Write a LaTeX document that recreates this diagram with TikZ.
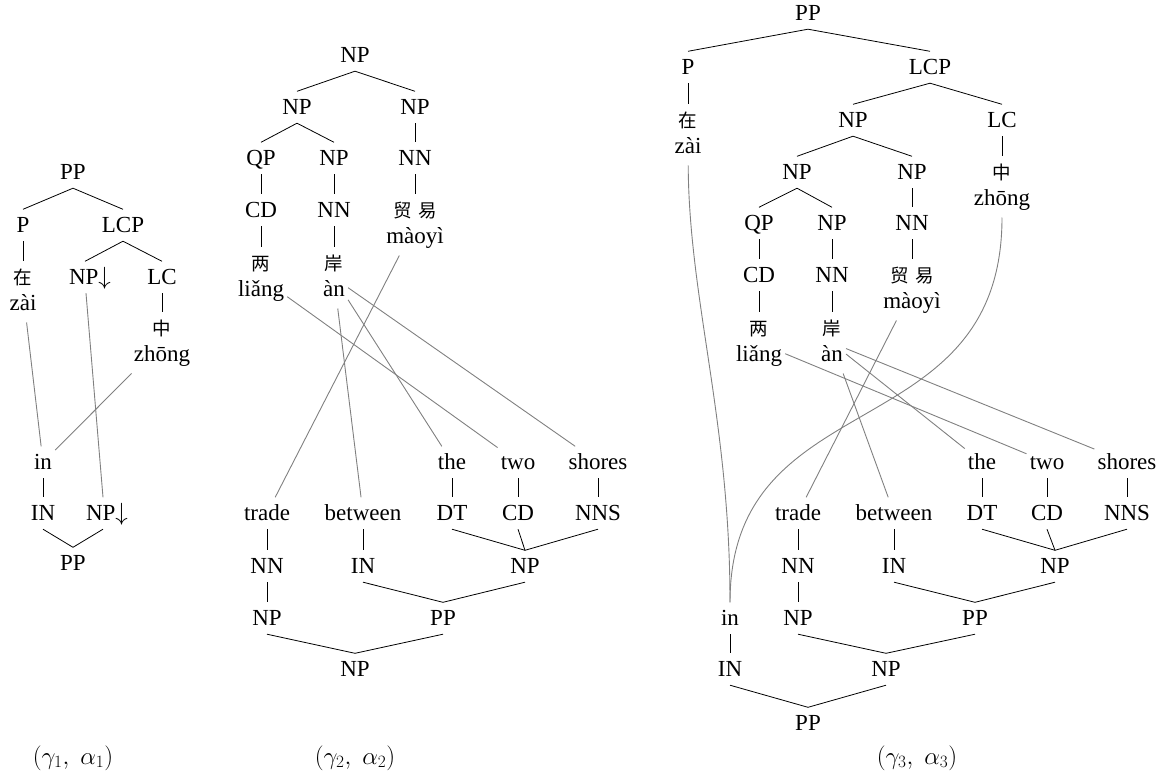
\documentclass[tikz,border=0pt]{standalone}
\usepackage{fontspec}
\setmainfont{Liberation Serif}
\newfontfamily\cjk{Noto Sans CJK SC}

\newcommand{\zhchar}[1]{{\cjk\fontsize{18.5}{26}\selectfont #1}}
\newcommand{\zhword}[2]{\begin{tabular}[t]{@{}c@{}}\zhchar{#1}\\#2\end{tabular}}

\tikzset{
	cat/.style={anchor=base, yshift=-7.5pt, inner xsep=3pt, inner ysep=4pt, text height=19pt, text depth=4.5pt},
	leaf/.style={anchor=base, yshift=-7.5pt, inner xsep=3pt, inner ysep=4pt, text height=19pt},
	branch/.style={line width=0.8pt},
	link/.style={line width=0.9pt, color=black!50},
	caption/.style={font=\fontsize{25}{30}\selectfont}
}

\begin{document}
\begin{tikzpicture}[x=1pt, y=-1pt, font=\fontsize{23}{26}\selectfont]
	\useasboundingbox (0,0) rectangle (1166,773);

	% (gamma_1, alpha_1)
	\node[cat] (aPP) at (73,172) {PP};
	\node[cat] (aP) at (23,225) {P};
	\node[cat] (aLCP) at (123,225) {LCP};
	\node[leaf] (azai) at (23,277) {\zhword{在}{zài}};
	\node[cat] (aNPt) at (90,277) {NP$\downarrow$};
	\node[cat] (aLC) at (162,277) {LC};
	\node[leaf] (azhong) at (162,328) {\zhword{中}{zhōng}};
	\draw[branch] (aPP.south) -- (aP.north);
	\draw[branch] (aPP.south) -- (aLCP.north);
	\draw[branch] (aP.south) -- (azai.north);
	\draw[branch] (aLCP.south) -- ([xshift=-5pt]aNPt.north);
	\draw[branch] (aLCP.south) -- (aLC.north);
	\draw[branch] (aLC.south) -- (azhong.north);

	\node[cat] (ain) at (43,462) {in};
	\node[cat] (aIN) at (43,513) {IN};
	\node[cat] (aNPb) at (107,513) {NP$\downarrow$};
	\node[cat] (aPPb) at (73,563) {PP};
	\draw[branch] (ain.south) -- (aIN.north);
	\draw[branch] (aIN.south) -- (aPPb.north);
	\draw[branch] ([xshift=-4pt]aNPb.south) -- (aPPb.north);

	\draw[link] (azai) -- (ain);
	\draw[link] ([xshift=-4pt]aNPt.south) -- ([xshift=-4pt]aNPb.north);
	\draw[link] (azhong) -- (ain);

	\node[caption] (alabel) at (73,758) {$(\gamma_1,\;\alpha_1)$};

	% (gamma_2, alpha_2)
	\node[cat] (bNP) at (355,55) {NP};
	\node[cat] (bNPl) at (297,107) {NP};
	\node[cat] (bNPr) at (415,107) {NP};
	\node[cat] (bQP) at (261,158) {QP};
	\node[cat] (bNPn) at (334,158) {NP};
	\node[cat] (bNNr) at (415,158) {NN};
	\node[cat] (bCD) at (261,210) {CD};
	\node[cat] (bNNn) at (334,210) {NN};
	\node[leaf] (bmaoyi) at (415,210) {\zhword{贸\hspace{6pt}易}{màoyì}};
	\node[leaf] (bliang) at (261,263) {\zhword{两}{liǎng}};
	\node[leaf] (ban) at (334,263) {\zhword{岸}{àn}};
	\draw[branch] (bNP.south) -- (bNPl.north);
	\draw[branch] (bNP.south) -- (bNPr.north);
	\draw[branch] (bNPl.south) -- (bQP.north);
	\draw[branch] (bNPl.south) -- (bNPn.north);
	\draw[branch] (bNPr.south) -- (bNNr.north);
	\draw[branch] (bQP.south) -- (bCD.north);
	\draw[branch] (bNPn.south) -- (bNNn.north);
	\draw[branch] (bNNr.south) -- (bmaoyi.north);
	\draw[branch] (bCD.south) -- (bliang.north);
	\draw[branch] (bNNn.south) -- (ban.north);

	\node[cat] (bthe) at (452,462) {the};
	\node[cat] (btwo) at (518,462) {two};
	\node[cat] (bshores) at (598,462) {shores};
	\node[cat] (btrade) at (267,513) {trade};
	\node[cat] (bbetween) at (363,513) {between};
	\node[cat] (bDT) at (452,513) {DT};
	\node[cat] (bCDe) at (518,513) {CD};
	\node[cat] (bNNS) at (598,513) {NNS};
	\node[cat] (bNNe) at (267,566) {NN};
	\node[cat] (bIN) at (363,566) {IN};
	\node[cat] (bNPe) at (525,566) {NP};
	\node[cat] (bNPa) at (267,618) {NP};
	\node[cat] (bPP) at (443,618) {PP};
	\node[cat] (bNProot) at (355,669) {NP};
	\draw[branch] (bthe.south) -- (bDT.north);
	\draw[branch] (btwo.south) -- (bCDe.north);
	\draw[branch] (bshores.south) -- (bNNS.north);
	\draw[branch] (btrade.south) -- (bNNe.north);
	\draw[branch] (bbetween.south) -- (bIN.north);
	\draw[branch] (bDT.south) -- (bNPe.north);
	\draw[branch] (bCDe.south) -- (bNPe.north);
	\draw[branch] (bNNS.south) -- (bNPe.north);
	\draw[branch] (bNNe.south) -- (bNPa.north);
	\draw[branch] (bIN.south) -- (bPP.north);
	\draw[branch] (bNPe.south) -- (bPP.north);
	\draw[branch] (bNPa.south) -- (bNProot.north);
	\draw[branch] (bPP.south) -- (bNProot.north);

	\draw[link] (bmaoyi) -- (btrade);
	\draw[link] (ban) -- (bbetween);
	\draw[link] (ban) -- (bthe);
	\draw[link] (ban) -- (bshores);
	\draw[link] (bliang) -- (btwo);

	\node[caption] (blabel) at (355,758) {$(\gamma_2,\;\alpha_2)$};

	% (gamma_3, alpha_3)
	\node[cat] (cPP) at (808,13) {PP};
	\node[cat] (cP) at (688,67) {P};
	\node[cat] (cLCP) at (930,67) {LCP};
	\node[leaf] (czai) at (688,120) {\zhword{在}{zài}};
	\node[cat] (cNP) at (853,120) {NP};
	\node[cat] (cLC) at (1002,120) {LC};
	\node[leaf] (czhong) at (1002,172) {\zhword{中}{zhōng}};
	\node[cat] (cNPl) at (797,172) {NP};
	\node[cat] (cNPr) at (912,172) {NP};
	\node[cat] (cQP) at (759,223) {QP};
	\node[cat] (cNPn) at (832,223) {NP};
	\node[cat] (cNNr) at (912,223) {NN};
	\node[cat] (cCD) at (759,275) {CD};
	\node[cat] (cNNn) at (832,275) {NN};
	\node[leaf] (cmaoyi) at (912,275) {\zhword{贸\hspace{6pt}易}{màoyì}};
	\node[leaf] (cliang) at (759,328) {\zhword{两}{liǎng}};
	\node[leaf] (can) at (832,328) {\zhword{岸}{àn}};
	\draw[branch] (cPP.south) -- (cP.north);
	\draw[branch] (cPP.south) -- (cLCP.north);
	\draw[branch] (cP.south) -- (czai.north);
	\draw[branch] (cLCP.south) -- (cNP.north);
	\draw[branch] (cLCP.south) -- (cLC.north);
	\draw[branch] (cLC.south) -- (czhong.north);
	\draw[branch] (cNP.south) -- (cNPl.north);
	\draw[branch] (cNP.south) -- (cNPr.north);
	\draw[branch] (cNPl.south) -- (cQP.north);
	\draw[branch] (cNPl.south) -- (cNPn.north);
	\draw[branch] (cNPr.south) -- (cNNr.north);
	\draw[branch] (cQP.south) -- (cCD.north);
	\draw[branch] (cNPn.south) -- (cNNn.north);
	\draw[branch] (cNNr.south) -- (cmaoyi.north);
	\draw[branch] (cCD.south) -- (cliang.north);
	\draw[branch] (cNNn.south) -- (can.north);

	\node[cat] (cthe) at (982,462) {the};
	\node[cat] (ctwo) at (1047,462) {two};
	\node[cat] (cshores) at (1127,462) {shores};
	\node[cat] (ctrade) at (798,513) {trade};
	\node[cat] (cbetween) at (894,513) {between};
	\node[cat] (cDT) at (982,513) {DT};
	\node[cat] (cCDe) at (1047,513) {CD};
	\node[cat] (cNNS) at (1127,513) {NNS};
	\node[cat] (cNNe) at (798,566) {NN};
	\node[cat] (cIN) at (894,566) {IN};
	\node[cat] (cNPe) at (1055,566) {NP};
	\node[cat] (cin) at (730,618) {in};
	\node[cat] (cNPa) at (798,618) {NP};
	\node[cat] (cPPe) at (975,618) {PP};
	\node[cat] (cINa) at (730,669) {IN};
	\node[cat] (cNPb) at (886,669) {NP};
	\node[cat] (cPProot) at (808,723) {PP};
	\draw[branch] (cthe.south) -- (cDT.north);
	\draw[branch] (ctwo.south) -- (cCDe.north);
	\draw[branch] (cshores.south) -- (cNNS.north);
	\draw[branch] (ctrade.south) -- (cNNe.north);
	\draw[branch] (cbetween.south) -- (cIN.north);
	\draw[branch] (cDT.south) -- (cNPe.north);
	\draw[branch] (cCDe.south) -- (cNPe.north);
	\draw[branch] (cNNS.south) -- (cNPe.north);
	\draw[branch] (cNNe.south) -- (cNPa.north);
	\draw[branch] (cIN.south) -- (cPPe.north);
	\draw[branch] (cNPe.south) -- (cPPe.north);
	\draw[branch] (cin.south) -- (cINa.north);
	\draw[branch] (cNPa.south) -- (cNPb.north);
	\draw[branch] (cPPe.south) -- (cNPb.north);
	\draw[branch] (cINa.south) -- (cPProot.north);
	\draw[branch] (cNPb.south) -- (cPProot.north);

	\draw[link] (czai) .. controls (689,300) and (730,420) .. (cin);
	\draw[link] (czhong) .. controls (1002,450) and (730,380) .. (cin);
	\draw[link] (cmaoyi) -- (ctrade);
	\draw[link] (can) -- (cbetween);
	\draw[link] (can) -- (cthe);
	\draw[link] (can) -- (cshores);
	\draw[link] (cliang) -- (ctwo);

	\node[caption] (clabel) at (917,758) {$(\gamma_3,\;\alpha_3)$};
\end{tikzpicture}
\end{document}
